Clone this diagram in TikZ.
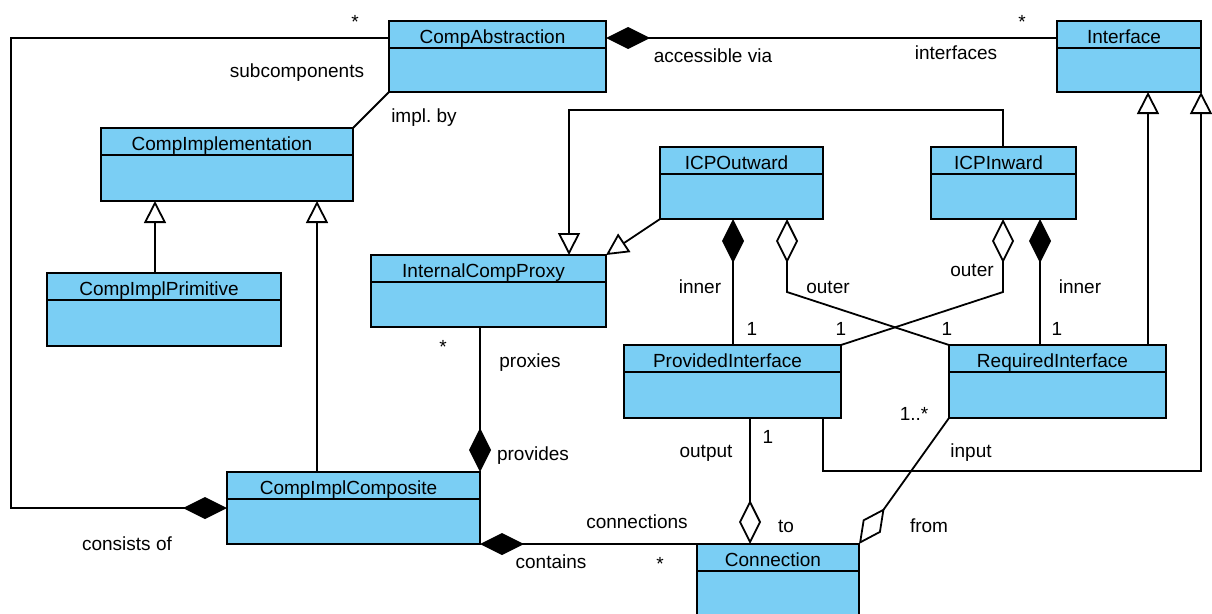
\documentclass[tikz,border=0pt]{standalone}
\usepackage{fontspec}
\setmainfont{Liberation Sans}
\usetikzlibrary{arrows.meta}
\frenchspacing
\definecolor{classblue}{RGB}{122,206,244}
\tikzset{
  clsbox/.style={draw=black, fill=classblue, line width=1.8pt, rectangle, inner sep=0pt, outer sep=0pt},
  clstitle/.style={font=\fontsize{19}{22}\selectfont, inner sep=0pt, anchor=base},
  lbl/.style={font=\fontsize{19}{22}\selectfont, inner sep=0pt, text height=14pt, text depth=4pt},
  assoc/.style={line width=1.8pt, line join=miter},
  compo/.style={assoc, {Diamond[length=44pt,width=22pt,fill=black]}-},
  aggr/.style={assoc, {Diamond[length=44pt,width=22pt,fill=white]}-},
  gen/.style={assoc, -{Triangle[length=22pt,width=22pt,fill=white]}},
}
% class box: name, left, top, right, bottom, title
\newcommand\umlclass[6]{%
  \node[clsbox, minimum width={(#4-#2)*1pt}, minimum height={(#5-#3)*1pt}] (#1) at ({(#2+#4)/2},{(#3+#5)/2}) {};
  \draw[line width=1.8pt] ([yshift=-27pt]#1.north west) -- ([yshift=-27pt]#1.north east);
  \node[clstitle] (#1-title) at ([yshift=-22pt,xshift=-5pt]#1.north) {#6};
}
\begin{document}
\begin{tikzpicture}[x=1pt,y=-1pt]
\useasboundingbox (0,0) rectangle (1212,613);
\clip (0,0) rectangle (1212,613);

% classes
\umlclass{ca}{389}{21}{606}{92}{CompAbstraction}
\umlclass{iface}{1057}{21}{1201}{92}{Interface}
\umlclass{cimpl}{101}{128}{353}{201}{CompImplementation}
\umlclass{cprim}{47}{273}{281}{346}{CompImplPrimitive}
\umlclass{icp}{371}{255}{606}{327}{InternalCompProxy}
\umlclass{icpo}{660}{147}{823}{219}{ICPOutward}
\umlclass{icpi}{931}{147}{1076}{219}{ICPInward}
\umlclass{pif}{624}{345}{841}{418}{ProvidedInterface}
\umlclass{rif}{949}{345}{1166}{418}{RequiredInterface}
\umlclass{ccomp}{227}{472}{480}{544}{CompImplComposite}
\umlclass{conn}{697}{544}{859}{650}{Connection}

% associations
\draw[compo] (ccomp.west) -- (11,0 |- ccomp.west) |- ([yshift=-17pt]ca.north west);
\draw[compo] ([yshift=-17pt]ca.north east) -- ([yshift=-17pt]iface.north west);
\draw[assoc] (ca.south west) -- (cimpl.north east);
\draw[compo] (ccomp.north east) -- (ccomp.north east |- icp.south);
\draw[compo] (ccomp.south east) -- (conn.north west);
\draw[compo] (733,0 |- icpo.south) -- (733,0 |- pif.north);
\draw[aggr] (787,0 |- icpo.south) -- (787,292) -- (rif.north west);
\draw[aggr] (1003,0 |- icpi.south) -- (1003,292) -- (pif.north east);
\draw[compo] (1040,0 |- icpi.south) -- (1040,0 |- rif.north);
\draw[aggr] (750,0 |- conn.north) -- (750,0 |- pif.south);
\draw[aggr] (conn.north east) -- (rif.south west);

% generalizations
\draw[gen] (155,0 |- cprim.north) -- (155,0 |- cimpl.south);
\draw[gen] (317,0 |- ccomp.north) -- (317,0 |- cimpl.south);
\draw[gen] (1003,0 |- icpi.north) |- (569,110) -- (569,0 |- icp.north);
\draw[gen] (icpo.south west) -- (icp.north east);
\draw[gen] (1148,0 |- rif.north) -- (1148,0 |- iface.south);
\draw[gen] (823,0 |- pif.south) |- (1201,471) -- (iface.south east);

% role names and multiplicities
\node[lbl] (m1) at (355,23) {*};
\node[lbl] (r1) at (297,72) {subcomponents};
\node[lbl] (r2) at (424,117) {impl. by};
\node[lbl] (r3) at (713,57) {accessible via};
\node[lbl] (r4) at (956,54) {interfaces};
\node[lbl] (m2) at (1022,23) {*};
\node[lbl] (r5) at (700,288) {inner};
\node[lbl] (r6) at (828,288) {outer};
\node[lbl] (r7) at (972,271) {outer};
\node[lbl] (r8) at (1080,288) {inner};
\node[lbl] (m3) at (752,330) {1};
\node[lbl] (m4) at (841,330) {1};
\node[lbl] (m5) at (947,330) {1};
\node[lbl] (m6) at (1057,330) {1};
\node[lbl] (m7) at (443,348) {*};
\node[lbl] (r9) at (530,362) {proxies};
\node[lbl] (r10) at (533,455) {provides};
\node[lbl] (r11) at (127,545) {consists of};
\node[lbl] (r12) at (551,563) {contains};
\node[lbl] (r13) at (637,523) {connections};
\node[lbl] (m8) at (660,565) {*};
\node[lbl] (r14) at (706,452) {output};
\node[lbl] (m9) at (768,438) {1};
\node[lbl] (r15) at (786,527) {to};
\node[lbl] (m10) at (914,415) {1..*};
\node[lbl] (r16) at (971,452) {input};
\node[lbl] (r17) at (929,527) {from};
\end{tikzpicture}
\end{document}
